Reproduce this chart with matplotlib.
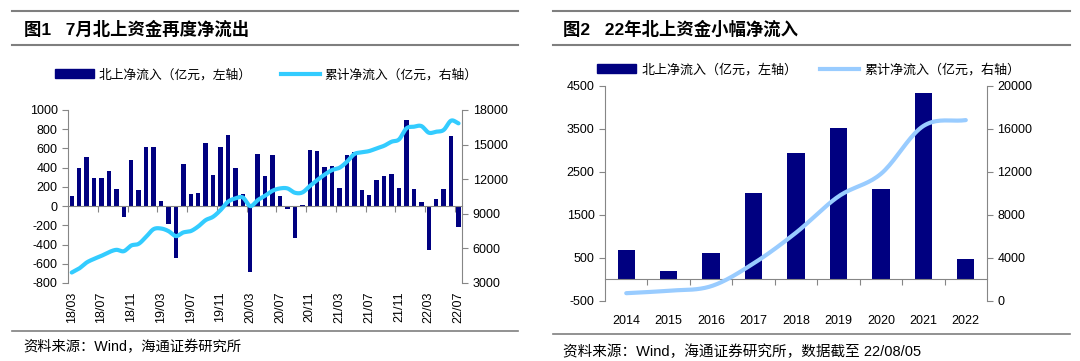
import numpy as np
import matplotlib
matplotlib.use("Agg")
import matplotlib.pyplot as plt
from matplotlib.lines import Line2D
from matplotlib.patches import Patch

plt.rcParams['font.family'] = ['Liberation Sans', 'Noto Sans CJK SC']
plt.rcParams['axes.unicode_minus'] = False

# ---- data: monthly northbound net flow (18/03 - 22/07) ----
months = [f"{y:02d}/{m:02d}" for y in range(18, 23) for m in range(1, 13)][2:55]
monthly_flow = [100, 392, 514, 292, 292, 365, 180, -111, 476, 170,
                611, 611, 49, -184, -542, 434, 125, 135, 653, 326,
                611, 736, 392, 122, -684, 542, 309, 531, 108, -28,
                -330, 8, 583, 576, 405, 413, 191, 531, 559, 163,
                111, 274, 309, 330, 188, 892, 174, 45, -458, 69,
                174, 733, -219]
monthly_cum = [3908, 4258, 4775, 5092, 5358, 5675, 5875, 5758, 6250, 6400,
               7008, 7667, 7725, 7500, 7067, 7383, 7500, 7900, 8450, 8742,
               9317, 10042, 10333, 10417, 9667, 10183, 10567, 11000, 11200, 11200,
               10825, 10850, 11400, 11925, 12400, 12792, 12992, 13517, 14183, 14325,
               14442, 14675, 14900, 15250, 15450, 16408, 16550, 16608, 16033, 16117,
               16267, 17075, 16842]

# ---- data: yearly ----
years = ["2014", "2015", "2016", "2017", "2018", "2019", "2020", "2021", "2022"]
yearly_flow = [678, 182, 601, 1996, 2942, 3516, 2089, 4322, 469]
yearly_cum = [700, 930, 1350, 3470, 6330, 9700, 11800, 16250, 16800]

bar_color = "#000080"
grey = "#868686"
labels = ["北上净流入（亿元，左轴）", "累计净流入（亿元，右轴）"]


def smooth(x, y, n=20):
    # catmull-rom style smoothing similar to excel smoothed lines
    x = np.asarray(x, float)
    y = np.asarray(y, float)
    px = np.concatenate([[2 * x[0] - x[1]], x, [2 * x[-1] - x[-2]]])
    py = np.concatenate([[2 * y[0] - y[1]], y, [2 * y[-1] - y[-2]]])
    xs, ys = [], []
    t = np.linspace(0, 1, n, endpoint=False)
    for i in range(1, len(px) - 2):
        for arr, out in ((px, xs), (py, ys)):
            p0, p1, p2, p3 = arr[i - 1], arr[i], arr[i + 1], arr[i + 2]
            out.extend(0.5 * ((2 * p1) + (-p0 + p2) * t
                              + (2 * p0 - 5 * p1 + 4 * p2 - p3) * t ** 2
                              + (-p0 + 3 * p1 - 3 * p2 + p3) * t ** 3))
    xs.append(x[-1])
    ys.append(y[-1])
    return np.array(xs), np.array(ys)


def style_axes(ax, ax2):
    for a in (ax, ax2):
        for s in a.spines.values():
            s.set_color(grey)
            s.set_linewidth(0.8)
        a.spines['top'].set_visible(False)
        a.tick_params(axis='both', colors=grey, labelcolor='black', labelsize=9,
                      length=4, width=0.8, direction='out')
    ax.spines['right'].set_visible(False)
    ax2.spines['left'].set_visible(False)
    ax2.spines['bottom'].set_visible(False)


fig = plt.figure(figsize=(10.8, 3.61), dpi=100)

# ---------------- left chart ----------------
ax = fig.add_axes([0.063, 0.2161, 0.365, 0.4792])
ax2 = ax.twinx()
x = np.arange(len(months))
ax.bar(x, monthly_flow, width=0.6, color=bar_color, zorder=2)
sx, sy = smooth(x, monthly_cum)
ax2.plot(sx, sy, color="#33CCFF", lw=3, solid_capstyle='round', zorder=3)
ax.set_xlim(-0.5, len(months) - 0.5)
ax.set_ylim(-800, 1000)
ax.set_yticks(np.arange(-800, 1001, 200))
ax2.set_ylim(3000, 18000)
ax2.set_yticks(np.arange(3000, 18001, 3000))
style_axes(ax, ax2)
ax.spines['bottom'].set_position(('data', 0))
ax.set_xticks(np.arange(3.5, len(months), 4))
ax.tick_params(axis='x', labelbottom=False)
sec = ax.secondary_xaxis('bottom')
sec.set_xticks(x[::4])
sec.set_xticklabels(months[::4], rotation=90)
sec.tick_params(length=0, labelsize=9, pad=6)
sec.spines['bottom'].set_visible(False)

# ---------------- right chart ----------------
bx = fig.add_axes([0.5602, 0.1670, 0.3537, 0.5956])
bx2 = bx.twinx()
xy = np.arange(len(years))
bx.bar(xy, yearly_flow, width=0.41, color=bar_color, zorder=2)
tx, ty = smooth(xy, yearly_cum)
bx2.plot(tx, ty, color="#99CCFF", lw=3, solid_capstyle='round', zorder=3)
bx.set_xlim(-0.5, len(years) - 0.5)
bx.set_ylim(-500, 4500)
bx.set_yticks(np.arange(-500, 4501, 1000))
bx2.set_ylim(0, 20000)
bx2.set_yticks(np.arange(0, 20001, 4000))
style_axes(bx, bx2)
bx.spines['bottom'].set_position(('data', 0))
bx.set_xticks(np.arange(0.5, len(years) - 1, 1))
bx.tick_params(axis='x', labelbottom=False)
sec2 = bx.secondary_xaxis('bottom')
sec2.set_xticks(xy)
sec2.set_xticklabels(years)
sec2.tick_params(length=0, labelsize=9, pad=10)
sec2.spines['bottom'].set_visible(False)

# ---------------- legends ----------------
h_bar = Patch(color=bar_color)
fig.legend([h_bar, Line2D([], [], color="#33CCFF", lw=3)], labels,
           loc='center', bbox_to_anchor=(0.2468, 0.792), ncol=2, frameon=False,
           fontsize=9.2, handlelength=3.0, handletextpad=0.4, columnspacing=2.3)
fig.legend([h_bar, Line2D([], [], color="#99CCFF", lw=3)], labels,
           loc='center', bbox_to_anchor=(0.7486, 0.806), ncol=2, frameon=False,
           fontsize=9.4, handlelength=3.0, handletextpad=0.4, columnspacing=1.7)

# ---------------- titles, rules, sources ----------------
for x0, x1 in ((0.011, 0.480), (0.512, 0.991)):
    for yy in (0.9695, 0.8753):
        fig.add_artist(Line2D([x0, x1], [yy, yy], color="#7f7f7f", lw=1.5))
fig.add_artist(Line2D([0.011, 0.480], [0.0831, 0.0831], color="#7f7f7f", lw=1.2))
fig.add_artist(Line2D([0.512, 0.991], [0.0748, 0.0748], color="#7f7f7f", lw=1.2))

fig.text(0.022, 0.919, "图1   7月北上资金再度净流出", fontsize=12.5, fontweight='bold',
         va='center')
fig.text(0.521, 0.919, "图2   22年北上资金小幅净流入", fontsize=12.5, fontweight='bold',
         va='center')
fig.text(0.022, 0.039, "资料来源：Wind，海通证券研究所", fontsize=10.3, va='center')
fig.text(0.521, 0.025, "资料来源：Wind，海通证券研究所，数据截至 22/08/05", fontsize=10.5,
         va='center')

fig.savefig("out.png", dpi=100)
